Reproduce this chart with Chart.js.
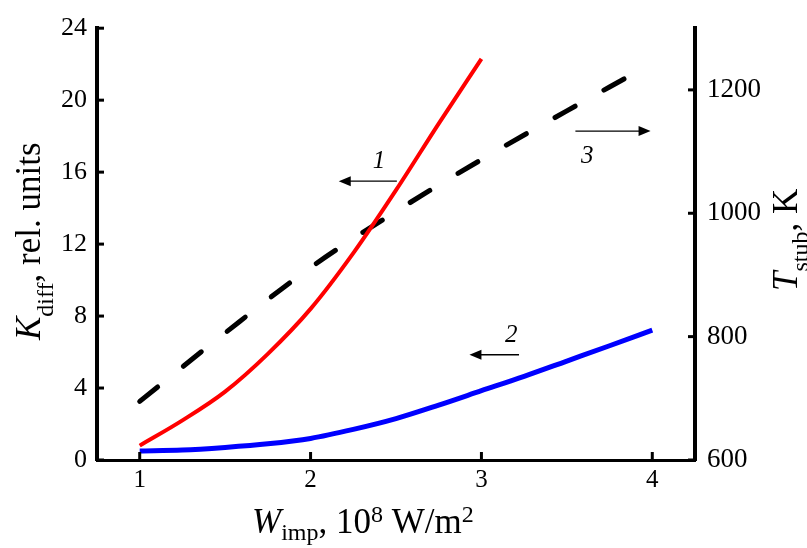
<!DOCTYPE html>
<html><head><meta charset="utf-8">
<script src="https://cdn.jsdelivr.net/npm/chart.js@4.4.1/dist/chart.umd.min.js"></script>
<style>html,body{margin:0;padding:0;background:#fff}#wrap{width:807px;height:548px}</style>
</head><body><div id="wrap"><canvas id="c" width="807" height="548"></canvas></div>
<script>
// ---- data ----
const wCurve1 = [1, 1.25, 1.5, 1.75, 2, 2.25, 2.5, 2.75, 3];
const kDiff1  = [0.8, 2.2, 3.8, 5.9, 8.4, 11.5, 15.0, 18.7, 22.3];
const wCurve2 = [1, 1.25, 1.5, 1.75, 2, 2.25, 2.5, 2.75, 3, 3.25, 3.5, 3.75, 4];
const kDiff2  = [0.5, 0.55, 0.7, 0.9, 1.2, 1.7, 2.3, 3.05, 3.85, 4.65, 5.5, 6.35, 7.22];
const wCurve3 = [1, 1.5, 2, 2.5, 3, 3.5, 3.875];
const tStub3  = [695, 806, 912, 1003, 1087, 1166, 1224];
const xTicks = [1, 2, 3, 4];
const leftTicks = [0, 4, 8, 12, 16, 20, 24];
const rightTicks = [600, 800, 1000, 1200];
const curveLabels = ['1', '2', '3'];

// annotation placement (data coordinates, left axis)
const notes = [
  {label: curveLabels[0], tx: 2.4, ty: 16.6, ax1: 2.505, ax2: 2.165, ay: 15.5},
  {label: curveLabels[1], tx: 3.175, ty: 6.9, ax1: 3.22, ax2: 2.93, ay: 5.85},
  {label: curveLabels[2], tx: 3.62, ty: 16.9, ax1: 3.55, ax2: 3.99, ay: 18.28}
];

const SERIF = '"Liberation Serif", "Times New Roman", serif';
const pts = (xs, ys) => xs.map((x, i) => ({x: x, y: ys[i]}));

function drawRich(ctx, parts, x, y, rot) {
  ctx.save();
  ctx.translate(x, y);
  if (rot) ctx.rotate(rot);
  ctx.textAlign = 'left';
  ctx.textBaseline = 'alphabetic';
  ctx.fillStyle = '#000';
  let cx = 0;
  for (const p of parts) {
    ctx.font = p.font;
    ctx.fillText(p.t, cx, p.dy || 0);
    cx += ctx.measureText(p.t).width;
  }
  ctx.restore();
}

const decor = {
  id: 'decor',
  afterDraw(chart) {
    const ctx = chart.ctx;
    const xs = chart.scales.x, yl = chart.scales.y, yr = chart.scales.y2;
    const a = chart.chartArea;
    ctx.save();
    ctx.strokeStyle = '#000';
    ctx.lineWidth = 3;
    ctx.lineCap = 'butt';
    // inward tick marks
    for (const v of leftTicks) {
      const py = yl.getPixelForValue(v);
      ctx.beginPath(); ctx.moveTo(a.left, py); ctx.lineTo(a.left + 7, py); ctx.stroke();
    }
    for (const v of rightTicks) {
      const py = yr.getPixelForValue(v);
      ctx.beginPath(); ctx.moveTo(a.right, py); ctx.lineTo(a.right - 7, py); ctx.stroke();
    }
    for (const v of xTicks) {
      const px = xs.getPixelForValue(v);
      ctx.beginPath(); ctx.moveTo(px, a.bottom); ctx.lineTo(px, a.bottom - 8); ctx.stroke();
    }
    // annotations with arrows
    ctx.lineWidth = 1.3;
    ctx.fillStyle = '#000';
    for (const n of notes) {
      const y = yl.getPixelForValue(n.ay);
      const x1 = xs.getPixelForValue(n.ax1), x2 = xs.getPixelForValue(n.ax2);
      const dir = Math.sign(x2 - x1);
      ctx.beginPath(); ctx.moveTo(x1, y); ctx.lineTo(x2 - dir * 10, y); ctx.stroke();
      ctx.beginPath();
      ctx.moveTo(x2, y); ctx.lineTo(x2 - dir * 12, y - 5); ctx.lineTo(x2 - dir * 12, y + 5);
      ctx.closePath(); ctx.fill();
      ctx.font = 'italic 25px ' + SERIF;
      ctx.textAlign = 'center'; ctx.textBaseline = 'middle';
      ctx.fillText(n.label, xs.getPixelForValue(n.tx), yl.getPixelForValue(n.ty));
    }
    ctx.restore();
    // axis titles
    const big = '35px ' + SERIF, bigI = 'italic 35px ' + SERIF, sub = '24px ' + SERIF;
    drawRich(ctx, [
      {t: 'W', font: bigI},
      {t: 'imp', font: sub, dy: 7},
      {t: ', 10', font: big},
      {t: '8', font: sub, dy: -11},
      {t: ' W/m', font: big},
      {t: '2', font: sub, dy: -11}
    ], 252, 533, 0);
    drawRich(ctx, [
      {t: 'K', font: bigI},
      {t: 'diff', font: sub, dy: 13},
      {t: ', rel. units', font: big}
    ], 40, 340, -Math.PI / 2);
    drawRich(ctx, [
      {t: 'T', font: bigI},
      {t: 'stub', font: sub, dy: 11},
      {t: ', K', font: big}
    ], 797, 291, -Math.PI / 2);
  }
};

const plain = v => String(v);

new Chart(document.getElementById('c'), {
  type: 'scatter',
  data: {
    datasets: [
      {data: pts(wCurve1, kDiff1), yAxisID: 'y', showLine: true, borderColor: '#ff0000',
       borderWidth: 4, pointRadius: 0, cubicInterpolationMode: 'monotone', fill: false},
      {data: pts(wCurve2, kDiff2), yAxisID: 'y', showLine: true, borderColor: '#0000ff',
       borderWidth: 5, pointRadius: 0, cubicInterpolationMode: 'monotone', fill: false},
      {data: pts(wCurve3, tStub3), yAxisID: 'y2', showLine: true, borderColor: '#000000',
       borderWidth: 5, pointRadius: 0, cubicInterpolationMode: 'monotone', fill: false,
       borderDash: [23, 33], borderCapStyle: 'round'}
    ]
  },
  options: {
    responsive: false,
    animation: false,
    devicePixelRatio: 1,
    layout: {padding: {top: 23, left: 0, right: 0, bottom: 0}},
    plugins: {legend: {display: false}, tooltip: {enabled: false}},
    scales: {
      x: {
        type: 'linear', position: 'bottom', min: 0.75, max: 4.25,
        grid: {display: false, drawTicks: false},
        border: {display: true, color: '#000', width: 3},
        afterBuildTicks: s => { s.ticks = xTicks.map(v => ({value: v})); },
        afterFit: s => { s.height = 88; },
        ticks: {color: '#000', padding: 5, maxRotation: 0, callback: plain, font: {family: SERIF, size: 25}}
      },
      y: {
        type: 'linear', position: 'left', min: 0, max: 24,
        grid: {display: false, drawTicks: false},
        border: {display: true, color: '#000', width: 4},
        afterBuildTicks: s => { s.ticks = leftTicks.map(v => ({value: v})); },
        afterFit: s => { s.width = 97; },
        ticks: {color: '#000', padding: 10, callback: plain, font: {family: SERIF, size: 26}}
      },
      y2: {
        type: 'linear', position: 'right', min: 600, max: 1300,
        grid: {display: false, drawTicks: false},
        border: {display: true, color: '#000', width: 4},
        afterBuildTicks: s => { s.ticks = rightTicks.map(v => ({value: v})); },
        afterFit: s => { s.width = 112; },
        ticks: {color: '#000', padding: 12, callback: plain, font: {family: SERIF, size: 27}}
      }
    }
  },
  plugins: [decor]
});
</script>
</body></html>
